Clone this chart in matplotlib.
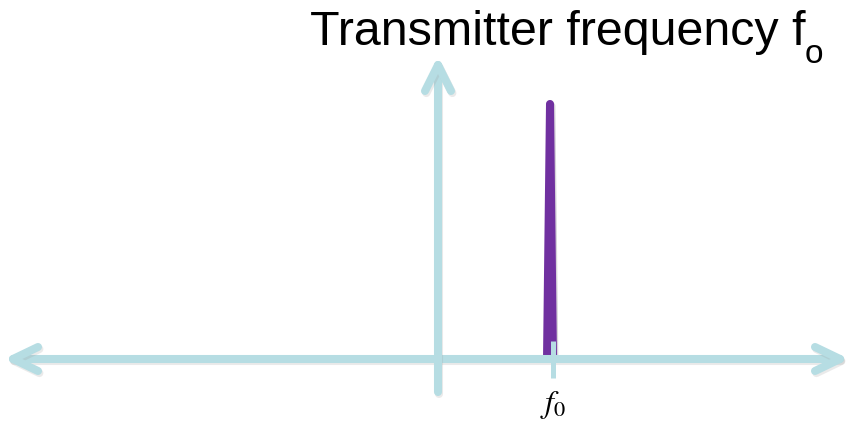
import numpy as np
import matplotlib.pyplot as plt
import matplotlib.patheffects as pe

# frequency axis layout (origin at the vertical axis, baseline at y = 0)
x_axis_span = [-425, 402]
y_axis_span = [-33, 294]

# transmitted carrier
f0 = 112
f0_amplitude = 259
f0_tick = 115
f0_label = r'$f_0$'
title = 'Transmitter frequency f'
title_sub = 'o'

axis_color = '#b6dde3'
spike_color = '#7030a0'

fig = plt.figure(figsize=(8.46, 4.26), dpi=100)
ax = fig.add_axes([0, 0, 1, 1])
ax.set_xlim(-438, 408)
ax.set_ylim(-67, 359)
ax.axis('off')

shadow = [pe.SimpleLineShadow(offset=(1, -1.5), shadow_color='#999999', alpha=0.2),
          pe.Normal()]
arrow_kw = dict(color=axis_color, lw=5.8, solid_capstyle='round',
                solid_joinstyle='round', path_effects=shadow, zorder=3)

# horizontal axis with arrow heads at both ends
ax.plot(x_axis_span, [0, 0], **arrow_kw)
ax.plot([x_axis_span[0] + 25, x_axis_span[0], x_axis_span[0] + 25], [12, 0, -12], **arrow_kw)
ax.plot([x_axis_span[1] - 25, x_axis_span[1], x_axis_span[1] - 25], [12, 0, -12], **arrow_kw)

# vertical axis with arrow head on top
ax.plot([0, 0], y_axis_span, **arrow_kw)
ax.plot([-13, 0, 13], [y_axis_span[1] - 26, y_axis_span[1], y_axis_span[1] - 26], **arrow_kw)

# spike: slightly tapered bar with a rounded top
half_bottom, half_top = 7, 4
theta = np.linspace(0, np.pi, 30)
top_x = f0 + half_top * np.cos(theta)
top_y = f0_amplitude - half_top + half_top * np.sin(theta)
spike_x = np.concatenate([[f0 - half_bottom, f0 + half_bottom], top_x, [f0 - half_top]])
spike_y = np.concatenate([[0, 0], top_y, [f0_amplitude - half_top]])
ax.fill(spike_x, spike_y, color=spike_color, lw=0,
        path_effects=[pe.SimplePatchShadow(offset=(1, -1.5), alpha=0.18), pe.Normal()],
        zorder=2)

# tick mark and label for f0
ax.plot([f0_tick, f0_tick], [18, -19], color=axis_color, lw=3.6,
        solid_capstyle='butt', zorder=4)
ax.text(f0_tick, -30, f0_label, fontsize=23, ha='center', va='top',
        math_fontfamily='stix')

t = ax.text(-128, 314, title, fontsize=34.8, family='Liberation Sans',
            ha='left', va='baseline')
ax.annotate(title_sub, xy=(1, 0), xycoords=t, xytext=(-0.5, -5.5),
            textcoords='offset points', fontsize=24, family='Liberation Sans',
            ha='left', va='baseline')

fig.savefig('out.png', dpi=100)
